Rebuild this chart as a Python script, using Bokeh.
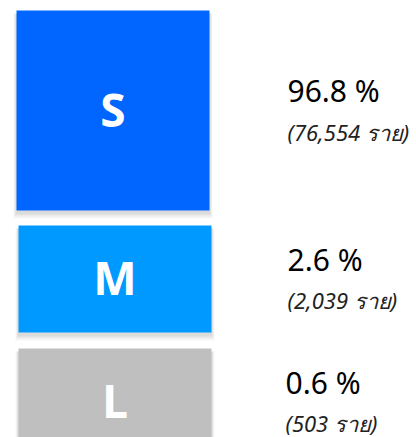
from bokeh.plotting import figure
from bokeh.models import Range1d, ColumnDataSource
from bokeh.core.properties import value
from bokeh.embed import file_html
from bokeh.resources import INLINE

# ---- data ----
sizes = ["S", "M", "L"]
percents = [96.8, 2.6, 0.6]
counts = [76554, 2039, 503]

# ---- layout / style ----
colors = ["#0066FF", "#0099FF", "#BFBFBF"]
box_left = [16, 18, 18]
box_width = 193
box_top = [10, 225, 348]
box_height = [200, 107, 107]
text_x = [287, 287, 285]

W, H = 416, 437
p = figure(width=W, height=H, x_range=Range1d(0, W), y_range=Range1d(H, 0),
           output_backend="svg", toolbar_location=None,
           x_axis_type=None, y_axis_type=None, min_border=0)
p.grid.visible = False
p.outline_line_color = None
p.background_fill_color = "white"
p.border_fill_color = "white"

left = box_left
right = [l + box_width for l in box_left]
top = box_top
bottom = [t + h for t, h in zip(box_top, box_height)]
cx = [(l + r) / 2 for l, r in zip(left, right)]
cy = [(t + b) / 2 for t, b in zip(top, bottom)]

# soft shadow
for spread, alpha in [(6, 0.05), (4, 0.07), (2, 0.10)]:
    p.quad(left=[l - spread / 2 for l in left], right=[r + spread / 2 for r in right],
           top=[t + 3 for t in top], bottom=[b + 2 + spread for b in bottom],
           fill_color="#555555", fill_alpha=alpha, line_color=None)

src = ColumnDataSource(dict(
    left=left, right=right, top=top, bottom=bottom, color=colors,
    cx=cx, cy=[c - 2 for c in cy], size=sizes,
    pct=[f"{v} %" for v in percents],
    cnt=[f"({c:,} ราย)" for c in counts],
    tx=text_x,
    pct_y=[c - 20 for c in cy],
    cnt_y=[c + 21 for c in cy],
))

p.quad(left="left", right="right", top="top", bottom="bottom", fill_color="color",
       line_color=None, source=src)

p.text(x="cx", y="cy", text="size", source=src, text_color="white",
       text_font=value("Noto Sans"), text_font_style="bold", text_font_size="46px",
       text_align="center", text_baseline="middle")

p.text(x="tx", y="pct_y", text="pct", source=src, text_color="#000000",
       text_font=value("Noto Sans"), text_font_size="30px",
       text_align="left", text_baseline="middle")

p.text(x="tx", y="cnt_y", text="cnt", source=src, text_color="#222222",
       text_font=value("Noto Sans"), text_font_style="italic", text_font_size="22px",
       text_align="left", text_baseline="middle")

open("out.html", "w").write(file_html(p, INLINE))
